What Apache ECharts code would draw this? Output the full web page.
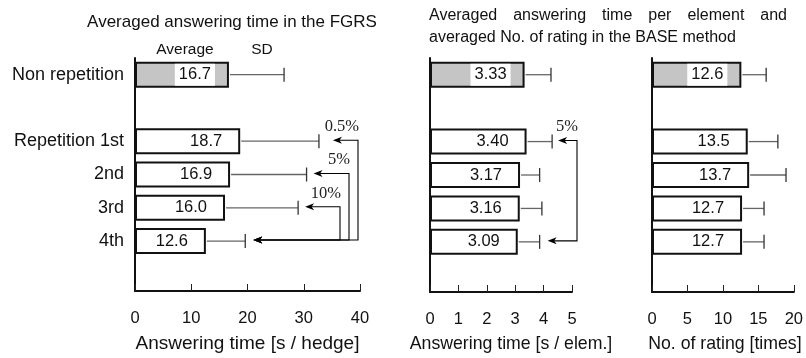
<!DOCTYPE html>
<html>
<head>
<meta charset="utf-8">
<script src="https://cdn.jsdelivr.net/npm/echarts@6/dist/echarts.min.js"></script>
<style>
  html, body { margin: 0; padding: 0; background: #fff; }
  #chart { width: 806px; height: 358px; }
</style>
</head>
<body>
<div id="chart"></div>
<script>
// Rows of every panel, top to bottom ("gap" rows are empty spacers)
const rows = ['Non repetition', 'gap1', 'Repetition 1st', '2nd', '3rd', '4th', 'gap2'];
const conditions = ['Non repetition', 'Repetition 1st', '2nd', '3rd', '4th'];

// FGRS: averaged answering time [s / hedge]
const fgrsMean = [16.7, 18.7, 16.9, 16.0, 12.6];
const fgrsSD = [9.8, 14.0, 13.6, 13.0, 7.0];
const fgrsTicks = [0, 10, 20, 30, 40];

// BASE: averaged answering time per element [s / elem.]
const elemMean = [3.33, 3.40, 3.17, 3.16, 3.09];
const elemSD = [0.93, 0.90, 0.69, 0.78, 0.77];
const elemTicks = [0, 1, 2, 3, 4, 5];

// BASE: averaged number of ratings [times]
const ratingMean = [12.6, 13.5, 13.7, 12.7, 12.7];
const ratingSD = [3.5, 4.25, 5.2, 3.1, 3.1];
const ratingTicks = [0, 5, 10, 15, 20];

// Significance brackets: [level, from row, to row]
const fgrsSig = [['0.5%', 'Repetition 1st', '4th'], ['5%', '2nd', '4th'], ['10%', '3rd', '4th']];
const elemSig = [['5%', 'Repetition 1st', '4th']];

const titleFGRS = 'Averaged answering time in the FGRS';
const titleBASE1 = 'Averaged answering time per element and';
const titleBASE2 = 'averaged No. of rating in the BASE method';
const headAverage = 'Average';
const headSD = 'SD';

const SANS = '"Liberation Sans", Arial, Helvetica, sans-serif';
const SERIF = '"Liberation Serif", "Times New Roman", serif';
const INK = '#111';

const panels = [
  { mean: fgrsMean, sd: fgrsSD, ticks: fgrsTicks, digits: 1, name: 'Answering time [s / hedge]', sig: fgrsSig,
    grid: { left: 135, top: 58, width: 225, height: 237 }, bracketBase: -2, gaps: [14, 7, 7],
    nameSize: 19, namePad: [0, 0, 0, 0] },
  { mean: elemMean, sd: elemSD, ticks: elemTicks, digits: 2, name: 'Answering time [s / elem.]', sig: elemSig,
    grid: { left: 430, top: 58, width: 142, height: 237 }, bracketBase: 5, gaps: [6],
    nameSize: 17.7, namePad: [0, 0, 0, 20] },
  { mean: ratingMean, sd: ratingSD, ticks: ratingTicks, digits: 1, name: 'No. of rating [times]', sig: [],
    grid: { left: 652, top: 58, width: 142, height: 237 }, bracketBase: 0, gaps: [],
    nameSize: 17.7, namePad: [0, 0, 0, 4] }
];

const rowIndex = name => rows.indexOf(name);

function arrowHead(tx, ty) {
  return {
    type: 'polygon',
    shape: { points: [[tx, ty], [tx + 9, ty - 3.5], [tx + 6.5, ty], [tx + 9, ty + 3.5]] },
    style: { fill: '#000' }
  };
}

const grids = [], xAxes = [], yAxes = [], series = [];

panels.forEach((p, i) => {
  grids.push(p.grid);
  const t = p.ticks;
  xAxes.push({
    gridIndex: i, type: 'value',
    min: t[0], max: t[t.length - 1], interval: t[1] - t[0],
    axisLine: { show: true, lineStyle: { color: INK, width: 2 } },
    axisTick: { show: true, inside: true, length: 7, lineStyle: { color: '#222', width: 1 } },
    axisLabel: { fontSize: 16.5, color: INK, margin: 19, fontFamily: SANS },
    splitLine: { show: false },
    name: p.name, nameLocation: 'middle', nameGap: 43,
    nameTextStyle: { fontSize: p.nameSize, color: INK, fontFamily: SANS, padding: p.namePad }
  });
  yAxes.push({
    gridIndex: i, type: 'category', data: rows, inverse: true,
    axisLine: { show: true, lineStyle: { color: INK, width: 2 } },
    axisTick: { show: false },
    axisLabel: {
      show: i === 0, fontSize: 18, color: INK, margin: 11, fontFamily: SANS,
      formatter: v => (v.indexOf('gap') === 0 ? '' : v)
    },
    splitLine: { show: false }
  });

  // Bars: averages
  series.push({
    type: 'bar', xAxisIndex: i, yAxisIndex: i, barWidth: 26, silent: true, z: 2,
    itemStyle: { color: '#fff', borderColor: INK, borderWidth: 2 },
    label: {
      show: true, position: 'insideRight', distance: 18, fontSize: 16.5, color: INK, fontFamily: SANS,
      formatter: q => Number(q.value).toFixed(p.digits)
    },
    data: rows.map(r => {
      const k = conditions.indexOf(r);
      if (k < 0) return '-';
      const item = { value: p.mean[k] };
      if (k === 0) {
        item.itemStyle = { color: '#c5c5c5' };
        item.label = { backgroundColor: '#fff', padding: [3, 4, 2, 4], distance: 14 };
      }
      return item;
    })
  });

  // Whiskers: mean + SD
  series.push({
    type: 'custom', xAxisIndex: i, yAxisIndex: i, silent: true, z: 3,
    encode: { x: 0, y: 1 },
    data: conditions.map((c, k) => [p.mean[k] + p.sd[k], rowIndex(c), p.mean[k]]),
    renderItem: (params, api) => {
      const row = api.value(1);
      const a = api.coord([api.value(2), row]);
      const b = api.coord([api.value(0), row]);
      return {
        type: 'group', children: [
          { type: 'line', shape: { x1: a[0] + 1, y1: a[1], x2: b[0], y2: b[1] }, style: { stroke: '#666', lineWidth: 1.3 } },
          { type: 'line', shape: { x1: b[0], y1: b[1] - 7, x2: b[0], y2: b[1] + 7 }, style: { stroke: '#333', lineWidth: 1.3 } }
        ]
      };
    }
  });

  // Significance brackets with arrows and levels
  if (p.sig.length) {
    series.push({
      type: 'custom', xAxisIndex: i, yAxisIndex: i, silent: true, z: 4, clip: false,
      encode: { x: 0, y: 1 },
      data: p.sig.map((s, lv) => [0, rowIndex(s[1]), rowIndex(s[2]), lv]),
      renderItem: (params, api) => {
        const from = api.value(1), to = api.value(2), lv = api.value(3);
        const cs = params.coordSys;
        const bx = cs.x + cs.width + p.bracketBase - lv * 9;
        const kFrom = conditions.indexOf(rows[from]);
        const kTo = conditions.indexOf(rows[to]);
        const gap = p.gaps[lv];
        const top = api.coord([p.mean[kFrom] + p.sd[kFrom], from]);
        const bot = api.coord([p.mean[kTo] + p.sd[kTo], to]);
        const yT = top[1] - 1, yB = bot[1] - 1;
        const tipT = top[0] + gap, tipB = bot[0] + 8;
        const stroke = { stroke: '#000', lineWidth: 1.1 };
        return {
          type: 'group', children: [
            { type: 'polyline', shape: { points: [[tipT + 6, yT], [bx, yT], [bx, yB], [tipB + 6, yB]] }, style: Object.assign({ fill: null }, stroke) },
            arrowHead(tipT, yT),
            arrowHead(tipB, yB),
            { type: 'text', x: bx + 1, y: yT - 5,
              style: { text: p.sig[lv][0], font: '16.5px ' + SERIF, fill: '#222', align: 'right', verticalAlign: 'bottom' } }
          ]
        };
      }
    });
  }
});

// Justified first line of the BASE title
const measure = document.createElement('canvas').getContext('2d');
function justifiedLine(text, x0, x1, y, font) {
  measure.font = font;
  const words = text.split(' ');
  const widths = words.map(w => measure.measureText(w).width);
  const total = widths.reduce((s, w) => s + w, 0);
  const space = (x1 - x0 - total) / (words.length - 1);
  let x = x0;
  return words.map((w, j) => {
    const el = { type: 'text', x: x, y: y, style: { text: w, font: font, fill: INK, textVerticalAlign: 'middle' } };
    x += widths[j] + space;
    return el;
  });
}

const titleFont = '16px ' + SANS;
const graphics = [
  { type: 'text', x: 232, y: 22, style: { text: titleFGRS, font: '17px ' + SANS, fill: INK, textAlign: 'center', textVerticalAlign: 'middle' } },
  { type: 'text', x: 185, y: 50, style: { text: headAverage, font: '15.5px ' + SANS, fill: INK, textAlign: 'center', textVerticalAlign: 'middle' } },
  { type: 'text', x: 262, y: 50, style: { text: headSD, font: '15.5px ' + SANS, fill: INK, textAlign: 'center', textVerticalAlign: 'middle' } },
  { type: 'text', x: 429, y: 38, style: { text: titleBASE2, font: titleFont, fill: INK, textVerticalAlign: 'middle' } }
].concat(justifiedLine(titleBASE1, 429, 787, 16, titleFont));

const chart = echarts.init(document.getElementById('chart'), null, { renderer: 'canvas' });
chart.setOption({
  animation: false,
  backgroundColor: '#fff',
  grid: grids,
  xAxis: xAxes,
  yAxis: yAxes,
  series: series,
  graphic: graphics
});
</script>
</body>
</html>
